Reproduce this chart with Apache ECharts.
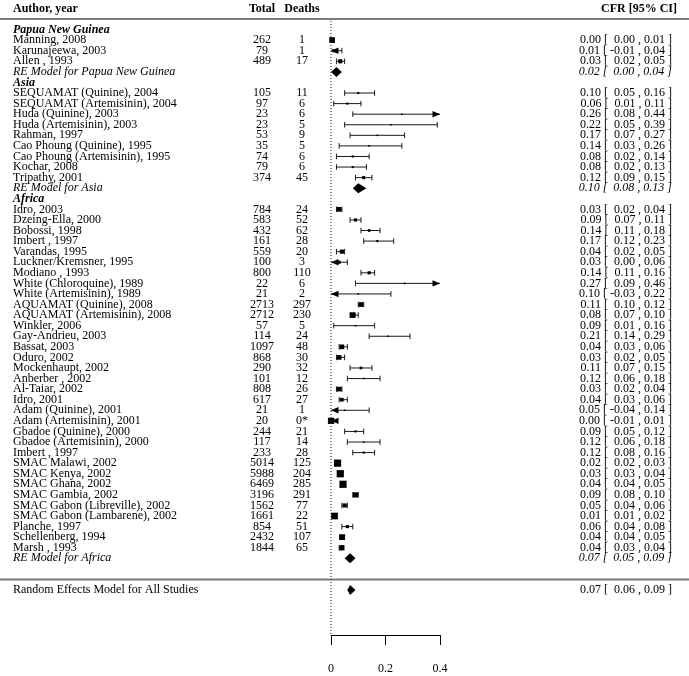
<!DOCTYPE html>
<html>
<head>
<meta charset="utf-8">
<script src="https://cdn.jsdelivr.net/npm/echarts@6/dist/echarts.min.js"></script>
<style>
html,body{margin:0;padding:0;background:#fff;}
#chart{width:689px;height:676px;}
</style>
</head>
<body>
<div id="chart"></div>
<script>
// ---------------- DATA ----------------
const columnHeaders = ['Author, year', 'Total', 'Deaths', 'CFR [95% CI]'];
const regionNames = ['Papua New Guinea', 'Asia', 'Africa'];
const regionSizes = [3, 9, 33];
const studyLabels = [
  'Manning, 2008','Karunajeewa, 2003','Allen , 1993',
  'SEQUAMAT (Quinine), 2004','SEQUAMAT (Artemisinin), 2004','Huda (Quinine), 2003','Huda (Artemisinin), 2003','Rahman, 1997','Cao Phoung (Quinine), 1995','Cao Phoung (Artemisinin), 1995','Kochar, 2008','Tripathy, 2001',
  'Idro, 2003','Dzeing-Ella, 2000','Bobossi, 1998','Imbert , 1997','Varandas, 1995','Luckner/Kremsner, 1995','Modiano , 1993','White (Chloroquine), 1989','White (Artemisinin), 1989','AQUAMAT (Quinine), 2008','AQUAMAT (Artemisinin), 2008','Winkler, 2006','Gay-Andrieu, 2003','Bassat, 2003','Oduro, 2002','Mockenhaupt, 2002','Anberber , 2002','Al-Taiar, 2002','Idro, 2001','Adam (Quinine), 2001','Adam (Artemisinin), 2001','Gbadoe (Quinine), 2000','Gbadoe (Artemisinin), 2000','Imbert , 1997','SMAC Malawi, 2002','SMAC Kenya, 2002','SMAC Ghana, 2002','SMAC Gambia, 2002','SMAC Gabon (Libreville), 2002','SMAC Gabon (Lambarene), 2002','Planche, 1997','Schellenberg, 1994','Marsh , 1993'
];
const totals = [262,79,489, 105,97,23,23,53,35,74,79,374,
  784,583,432,161,559,100,800,22,21,2713,2712,57,114,1097,868,290,101,808,617,21,20,244,117,233,5014,5988,6469,3196,1562,1661,854,2432,1844];
const deaths = ['1','1','17', '11','6','6','5','9','5','6','6','45',
  '24','52','62','28','20','3','110','6','2','297','230','5','24','48','30','32','12','26','27','1','0*','21','14','28','125','204','285','291','77','22','51','107','65'];
const cfr = [0.004,0.01,0.034, 0.10,0.06,0.26,0.22,0.17,0.14,0.08,0.08,0.12,
  0.03,0.09,0.14,0.17,0.04,0.03,0.14,0.27,0.10,0.11,0.08,0.09,0.21,0.04,0.03,0.11,0.12,0.03,0.04,0.05,0.00,0.09,0.12,0.12,0.024,0.034,0.044,0.09,0.05,0.013,0.06,0.04,0.04];
const ciLow = [0.00,-0.01,0.02, 0.05,0.01,0.08,0.05,0.07,0.03,0.02,0.02,0.09,
  0.02,0.07,0.11,0.12,0.02,-0.003,0.11,0.09,-0.03,0.10,0.07,0.01,0.14,0.03,0.02,0.07,0.06,0.02,0.03,-0.04,-0.01,0.05,0.06,0.08,0.02,0.03,0.04,0.08,0.04,0.01,0.04,0.04,0.03];
const ciHigh = [0.01,0.04,0.05, 0.16,0.11,0.44,0.39,0.27,0.26,0.14,0.13,0.15,
  0.04,0.11,0.18,0.23,0.05,0.06,0.16,0.46,0.22,0.12,0.10,0.16,0.29,0.06,0.05,0.15,0.18,0.04,0.06,0.14,0.01,0.12,0.18,0.16,0.03,0.04,0.05,0.10,0.06,0.02,0.08,0.05,0.04];
const weights = [3.6,1.6,2.4, 0.8,0.8,0.4,0.4,0.4,0.4,0.8,0.8,1.6,
  2.8,1.6,1.2,0.8,2.4,1.6,1.6,0.4,0.4,2.8,3.6,0.4,0.4,2.8,2.8,1.2,0.4,2.8,2.0,0.4,4.0,0.8,0.4,0.8,4.8,4.8,4.8,3.2,2.4,4.4,1.6,3.6,3.2];
const reLabels = ['RE Model for Papua New Guinea', 'RE Model for Asia', 'RE Model for Africa'];
const reEst = [0.02, 0.10, 0.07];
const reLow = [0.00, 0.08, 0.05];
const reHigh = [0.04, 0.13, 0.09];
const overallLabel = 'Random Effects Model for All Studies';
const overallEst = 0.07, overallLow = 0.06, overallHigh = 0.09;
const xTicks = [0, 0.2, 0.4];

// ---------------- LAYOUT ----------------
const FONT = "'Liberation Serif','Times New Roman',serif";
const X_LABEL = 13, X_TOTAL = 262, X_DEATHS = 302, X_CFR = 672, X_CFR_HEAD = 677;
const W = 689;

function f2(v){ const r = Math.abs(v) < 0.005 ? 0 : v; return r.toFixed(2); }
function padLow(v){ const s = f2(v); return s.charAt(0) === '-' ? s : ' ' + s; }
function annot(e, l, h){ return f2(e) + ' [ ' + padLow(l) + ' , ' + f2(h) + ' ]'; }

// Build row structure
const textRows = [];   // {row, cells:[{text,x,align,font}]}
const studyData = [];  // [est,row,lb,ub,weight]
const diamondData = []; // [est,row,lb,ub]
const hlines = [];     // rows with full-width rules
textRows.push({row: -0.95, cells: [
  {text: columnHeaders[0], x: X_LABEL, align: 'left', font: 'bold 12px ' + FONT},
  {text: columnHeaders[1], x: X_TOTAL, align: 'center', font: 'bold 12px ' + FONT},
  {text: columnHeaders[2], x: X_DEATHS, align: 'center', font: 'bold 12px ' + FONT},
  {text: columnHeaders[3], x: X_CFR_HEAD, align: 'right', font: 'bold 12px ' + FONT}
]});
hlines.push(0);
let row = 1, si = 0;
regionNames.forEach((rn, gi) => {
  textRows.push({row: row, cells: [{text: rn, x: X_LABEL, align: 'left', font: 'italic bold 12px ' + FONT}]});
  row++;
  for (let k = 0; k < regionSizes[gi]; k++, si++, row++) {
    textRows.push({row: row, cells: [
      {text: studyLabels[si], x: X_LABEL, align: 'left', font: '12px ' + FONT},
      {text: String(totals[si]), x: X_TOTAL, align: 'center', font: '12px ' + FONT},
      {text: deaths[si], x: X_DEATHS, align: 'center', font: '12px ' + FONT},
      {text: annot(cfr[si], ciLow[si], ciHigh[si]), x: X_CFR, align: 'right', font: '12px ' + FONT}
    ]});
    studyData.push([cfr[si], row, ciLow[si], ciHigh[si], weights[si]]);
  }
  textRows.push({row: row, cells: [
    {text: reLabels[gi], x: X_LABEL, align: 'left', font: 'italic 12px ' + FONT},
    {text: annot(reEst[gi], reLow[gi], reHigh[gi]), x: X_CFR, align: 'right', font: 'italic 12px ' + FONT}
  ]});
  diamondData.push([reEst[gi], row, reLow[gi], reHigh[gi]]);
  row++;
});
row += 1;
hlines.push(row);
row += 1;
textRows.push({row: row, cells: [
  {text: overallLabel, x: X_LABEL, align: 'left', font: '12px ' + FONT},
  {text: annot(overallEst, overallLow, overallHigh), x: X_CFR, align: 'right', font: '12px ' + FONT}
]});
diamondData.push([overallEst, row, overallLow, overallHigh]);

const X_MIN = xTicks[0], X_MAX = xTicks[xTicks.length - 1];
const wMin = Math.min(...weights), wMax = Math.max(...weights);
const INK = '#1a1a1a';

const chart = echarts.init(document.getElementById('chart'), null, {renderer: 'canvas'});
chart.setOption({
  animation: false,
  backgroundColor: '#fff',
  grid: {left: 331, width: 109, top: 8.425, bottom: 41, containLabel: false},
  xAxis: {
    type: 'value', min: X_MIN, max: X_MAX, interval: 0.2,
    axisLine: {show: true, onZero: false, lineStyle: {color: '#000', width: 1}},
    axisTick: {show: true, inside: false, length: 10, lineStyle: {color: '#000', width: 1}},
    axisLabel: {margin: 28, color: '#000', fontFamily: "Liberation Serif", fontSize: 12,
      formatter: v => (v === 0 ? '0' : v.toFixed(1))},
    splitLine: {show: false}
  },
  yAxis: {type: 'value', inverse: true, min: -1, max: 58.25, show: false},
  series: [
    {
      type: 'line', silent: true, symbol: 'none',
      data: [[0, 0.2], [0, 58.25]],
      lineStyle: {color: '#333', width: 1.2, type: [1, 2]}
    },
    {
      type: 'custom', silent: true, clip: false,
      data: hlines.map(r => [0, r]),
      renderItem: (params, api) => {
        const y = api.coord([0, api.value(1)])[1];
        return {type: 'line', shape: {x1: 0, y1: y, x2: W, y2: y},
          style: {stroke: '#7a7a7a', lineWidth: 2}};
      }
    },
    {
      type: 'custom', silent: true, clip: false,
      data: studyData,
      renderItem: (params, api) => {
        const est = api.value(0), r = api.value(1), lb = api.value(2), ub = api.value(3), w = api.value(4);
        const y = api.coord([0, r])[1];
        const lo = Math.max(lb, X_MIN), hi = Math.min(ub, X_MAX);
        const xl = api.coord([lo, r])[0], xh = api.coord([hi, r])[0], xe = api.coord([est, r])[0];
        const ch = [];
        ch.push({type: 'line', shape: {x1: xl, y1: y, x2: xh, y2: y}, style: {stroke: INK, lineWidth: 1}});
        if (lb < X_MIN) {
          ch.push({type: 'polygon', shape: {points: [[xl, y], [xl + 7.5, y - 3.2], [xl + 7.5, y + 3.2]]}, style: {fill: '#000'}});
        } else {
          ch.push({type: 'line', shape: {x1: xl, y1: y - 2.8, x2: xl, y2: y + 2.8}, style: {stroke: INK, lineWidth: 1}});
        }
        if (ub > X_MAX) {
          ch.push({type: 'polygon', shape: {points: [[xh, y], [xh - 7.5, y - 3.2], [xh - 7.5, y + 3.2]]}, style: {fill: '#000'}});
        } else {
          ch.push({type: 'line', shape: {x1: xh, y1: y - 2.8, x2: xh, y2: y + 2.8}, style: {stroke: INK, lineWidth: 1}});
        }
        const s = 1.6 + (w - wMin) / (wMax - wMin) * 5.6;
        ch.push({type: 'rect', shape: {x: xe - s / 2, y: y - s / 2, width: s, height: s}, style: {fill: '#000'}});
        return {type: 'group', children: ch};
      }
    },
    {
      type: 'custom', silent: true, clip: false,
      data: diamondData,
      renderItem: (params, api) => {
        const r = api.value(1);
        const pe = api.coord([api.value(0), r]), pl = api.coord([api.value(2), r]), ph = api.coord([api.value(3), r]);
        const h = 5;
        return {type: 'polygon', shape: {points: [[pl[0], pe[1]], [pe[0], pe[1] - h], [ph[0], pe[1]], [pe[0], pe[1] + h]]},
          style: {fill: '#000'}};
      }
    },
    {
      type: 'custom', silent: true, clip: false,
      data: textRows.map(t => [0, t.row]),
      renderItem: (params, api) => {
        const t = textRows[params.dataIndex];
        const y = api.coord([0, api.value(1)])[1];
        return {type: 'group', children: t.cells.map(c => ({
          type: 'text',
          style: {text: c.text, x: c.x, y: y, font: c.font, fill: '#000',
            align: c.align, verticalAlign: 'middle', textAlign: c.align, textVerticalAlign: 'middle'}
        }))};
      }
    }
  ]
});
</script>
</body>
</html>
